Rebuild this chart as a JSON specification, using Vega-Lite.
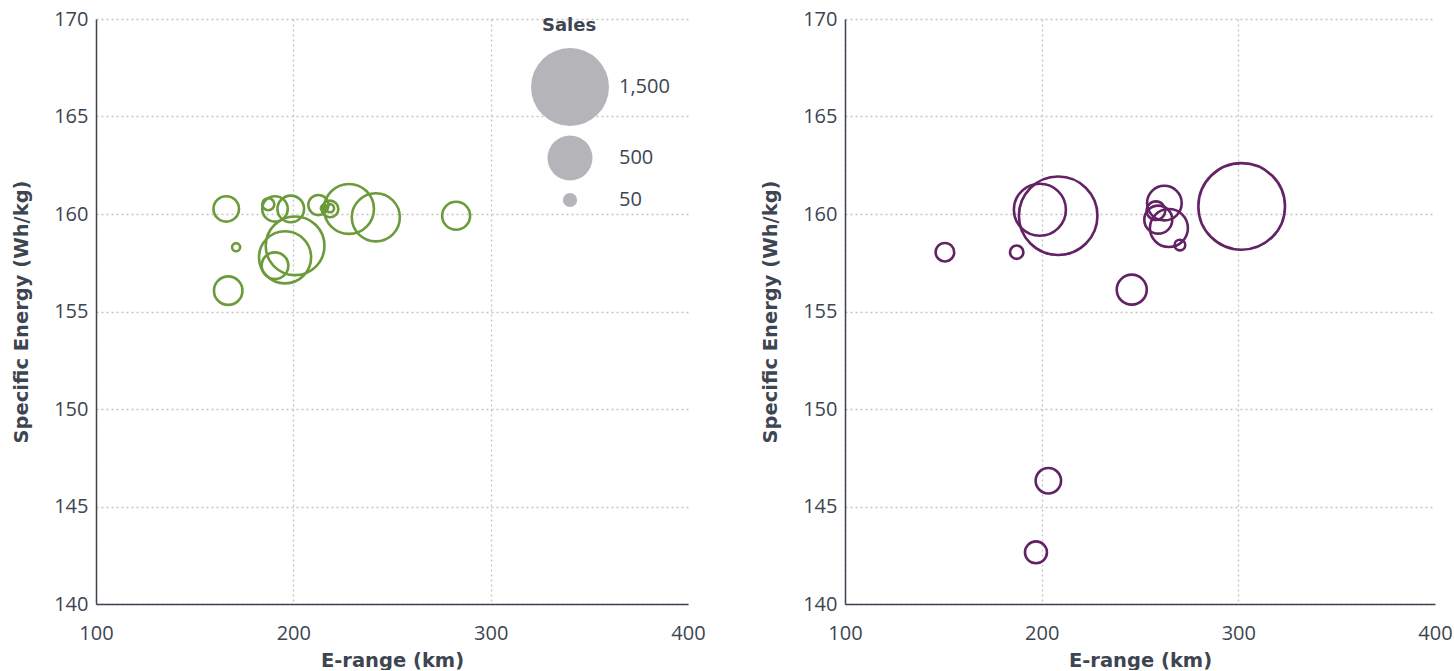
{
  "$schema": "https://vega.github.io/schema/vega-lite/v6.json",
  "padding": {"top": 9, "left": 11, "right": 0, "bottom": 0},
  "background": "white",
  "spacing": 54,
  "datasets": {
    "left": [
      {"range_km": 166, "specific_energy": 160.26, "sales": 160},
      {"range_km": 171, "specific_energy": 158.3, "sales": 16},
      {"range_km": 167, "specific_energy": 156.07, "sales": 200},
      {"range_km": 187.3, "specific_energy": 160.5, "sales": 36},
      {"range_km": 190.7, "specific_energy": 160.26, "sales": 160},
      {"range_km": 198.7, "specific_energy": 160.26, "sales": 175},
      {"range_km": 200.9, "specific_energy": 158.37, "sales": 850},
      {"range_km": 195.8, "specific_energy": 157.78, "sales": 670},
      {"range_km": 190.7, "specific_energy": 157.35, "sales": 175},
      {"range_km": 212.7, "specific_energy": 160.46, "sales": 100},
      {"range_km": 218.6, "specific_energy": 160.26, "sales": 68},
      {"range_km": 218.6, "specific_energy": 160.3, "sales": 16},
      {"range_km": 215.5, "specific_energy": 160.3, "sales": 9},
      {"range_km": 228.2, "specific_energy": 160.26, "sales": 615},
      {"range_km": 241.8, "specific_energy": 159.83, "sales": 570},
      {"range_km": 282.5, "specific_energy": 159.91, "sales": 193}
    ],
    "right": [
      {"range_km": 150.8, "specific_energy": 158.04, "sales": 85},
      {"range_km": 187.3, "specific_energy": 158.04, "sales": 44},
      {"range_km": 199.1, "specific_energy": 160.22, "sales": 667},
      {"range_km": 208.4, "specific_energy": 159.91, "sales": 1520},
      {"range_km": 245.8, "specific_energy": 156.12, "sales": 222},
      {"range_km": 262.4, "specific_energy": 160.56, "sales": 296},
      {"range_km": 258.1, "specific_energy": 160.17, "sales": 85},
      {"range_km": 259.3, "specific_energy": 159.71, "sales": 193},
      {"range_km": 264.7, "specific_energy": 159.28, "sales": 356},
      {"range_km": 270.3, "specific_energy": 158.41, "sales": 28},
      {"range_km": 301.7, "specific_energy": 160.39, "sales": 1850},
      {"range_km": 203.4, "specific_energy": 146.32, "sales": 159},
      {"range_km": 197.1, "specific_energy": 142.65, "sales": 119}
    ]
  },
  "config": {
    "view": {"stroke": null},
    "font": "Open Sans",
    "axis": {
      "domainColor": "#3d4550",
      "domainWidth": 1.5,
      "ticks": false,
      "labelFlush": false,
      "labelFont": "Open Sans",
      "labelFontSize": 20,
      "labelColor": "#3d4550",
      "titleFont": "DejaVu Sans",
      "titleFontSize": 19.5,
      "titleFontWeight": "bold",
      "titleColor": "#3d4550",
      "gridColor": "#c4c4c4",
      "gridDash": [2, 3],
      "gridWidth": 1.3
    },
    "legend": {
      "labelFont": "Open Sans",
      "labelFontSize": 20,
      "labelColor": "#3d4550",
      "titleFont": "DejaVu Sans",
      "titleFontSize": 18,
      "titleFontWeight": "bold",
      "titleColor": "#3d4550"
    }
  },
  "resolve": {"scale": {"size": "independent"}, "legend": {"size": "independent"}},
  "hconcat": [
    {
      "width": 592,
      "height": 585,
      "data": {"name": "left"},
      "encoding": {
        "x": {"field": "range_km", "type": "quantitative", "title": "E-range (km)",
          "scale": {"domain": [100, 400], "nice": false},
          "axis": {"values": [100, 200, 300, 400], "labelPadding": 19, "titlePadding": 8,
            "gridOpacity": {"condition": {"test": "datum.value === 400", "value": 0}, "value": 1}}},
        "y": {"field": "specific_energy", "type": "quantitative", "title": "Specific Energy (Wh/kg)",
          "scale": {"domain": [140, 170], "nice": false, "zero": false},
          "axis": {"values": [140, 145, 150, 155, 160, 165, 170], "labelPadding": 8, "titlePadding": 22}}
      },
      "layer": [
        {
          "mark": {"type": "circle", "color": "#b5b4b9", "opacity": 0},
          "encoding": {
            "size": {"field": "sales", "type": "quantitative", "title": "Sales",
              "scale": {"domain": [0, 1500], "range": [0, 6084], "clamp": false},
              "legend": {"orient": "none", "legendX": 446, "legendY": -2, "values": [1500, 500, 50],
                "format": ",d", "symbolType": "circle", "symbolOpacity": 1, "symbolFillColor": "#b5b4b9",
                "symbolStrokeWidth": 0, "symbolOffset": -11,
                "rowPadding": 9, "labelOffset": 10, "titlePadding": 13}}
          }
        },
        {
          "mark": {"type": "point", "shape": "circle", "filled": false, "strokeWidth": 2.6, "opacity": 1, "color": "#6b9b3a"},
          "encoding": {
            "size": {"field": "sales", "type": "quantitative", "legend": null}
          }
        }
      ]
    },
    {
      "width": 590,
      "height": 585,
      "data": {"name": "right"},
      "mark": {"type": "point", "shape": "circle", "filled": false, "strokeWidth": 2.6, "opacity": 1, "color": "#622265"},
      "encoding": {
        "x": {"field": "range_km", "type": "quantitative", "title": "E-range (km)",
          "scale": {"domain": [100, 400], "nice": false},
          "axis": {"values": [100, 200, 300, 400], "labelPadding": 19, "titlePadding": 8,
            "gridOpacity": {"condition": {"test": "datum.value === 400", "value": 0}, "value": 1}}},
        "y": {"field": "specific_energy", "type": "quantitative", "title": "Specific Energy (Wh/kg)",
          "scale": {"domain": [140, 170], "nice": false, "zero": false},
          "axis": {"values": [140, 145, 150, 155, 160, 165, 170], "labelPadding": 8, "titlePadding": 22}},
        "size": {"field": "sales", "type": "quantitative",
          "scale": {"domain": [0, 1500], "range": [0, 6084], "clamp": false},
          "legend": null}
      }
    }
  ]
}
